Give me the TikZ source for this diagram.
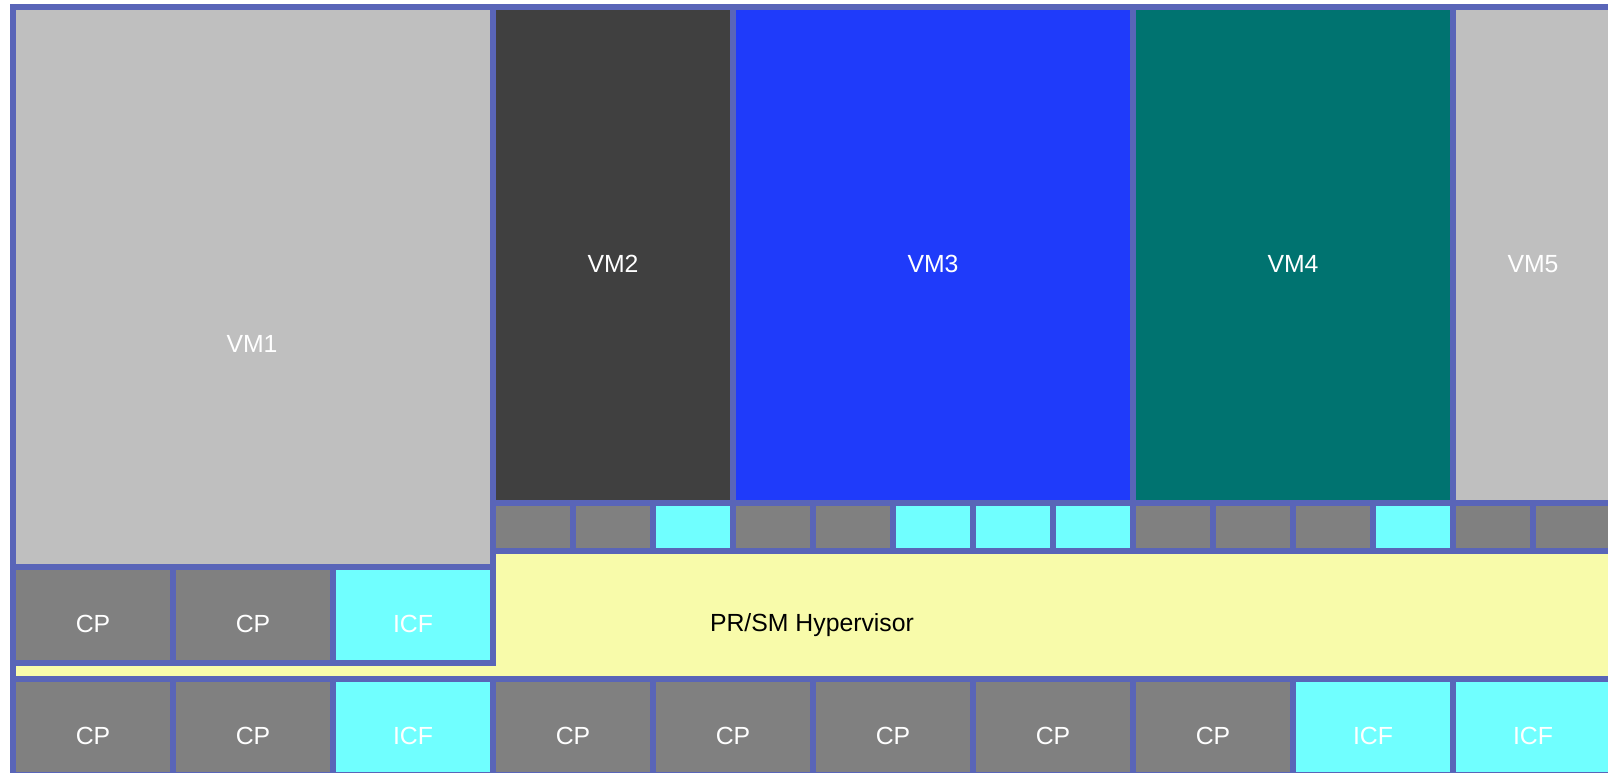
\documentclass[tikz,border=0pt]{standalone}
\usepackage{fontspec}
\setmainfont{Liberation Sans}
\usetikzlibrary{calc}

\definecolor{edgeblue}{RGB}{89,101,184}
\definecolor{vmlight}{RGB}{191,191,191}
\definecolor{vmdark}{RGB}{64,64,64}
\definecolor{vmblue}{RGB}{31,59,250}
\definecolor{vmteal}{RGB}{0,115,112}
\definecolor{cpgray}{RGB}{128,128,128}
\definecolor{icfcyan}{RGB}{112,255,255}
\definecolor{hyper}{RGB}{248,251,170}

\tikzset{
  cell/.style={draw=edgeblue, line width=6pt},
  lbl/.style={anchor=base, text=white, inner sep=0pt,
    font=\fontsize{24.8}{29}\selectfont},
}

\begin{document}
\begin{tikzpicture}[x=1pt,y=-1pt]
\path[use as bounding box, clip] (0,0) rectangle (1608,773);

% hypervisor layer
\filldraw[cell, fill=hyper] (13,551) rectangle (1613,679);
\node[lbl, text=black] (hyp) at (812,631.5) {PR/SM Hypervisor};

% VM1 with its own processors
\filldraw[cell, fill=vmlight] (13,7) rectangle (493,567);
\node[lbl] (vm1) at (252,352.5) {VM1};
\foreach \x/\t/\c [count=\i] in {13/CP/cpgray, 173/CP/cpgray, 333/ICF/icfcyan} {
  \filldraw[cell, fill=\c] (\x,567) rectangle ++(160,96);
  \node[lbl] (own\i) at (\x+80,632) {\t};
}

% VM2 .. VM5
\foreach \a/\b/\c/\n in {493/733/vmdark/2, 733/1133/vmblue/3, 1133/1453/vmteal/4, 1453/1613/vmlight/5} {
  \filldraw[cell, fill=\c] (\a,7) rectangle (\b,503);
  \node[lbl] (vm\n) at ({(\a+\b)/2},272.5) {VM\n};
}

% shared processor slots
\foreach \c [count=\i from 0] in {cpgray,cpgray,icfcyan,cpgray,cpgray,icfcyan,icfcyan,
    icfcyan,cpgray,cpgray,cpgray,icfcyan,cpgray,cpgray}
  \filldraw[cell, fill=\c] (493+80*\i,503) rectangle ++(80,48);

% physical processors
\foreach \t/\c [count=\i from 0] in {CP/cpgray, CP/cpgray, ICF/icfcyan, CP/cpgray,
    CP/cpgray, CP/cpgray, CP/cpgray, CP/cpgray, ICF/icfcyan, ICF/icfcyan} {
  \filldraw[cell, fill=\c] (13+160*\i,679) rectangle ++(160,96);
  \node[lbl] (phys\i) at (93+160*\i,744.5) {\t};
}
\end{tikzpicture}
\end{document}
